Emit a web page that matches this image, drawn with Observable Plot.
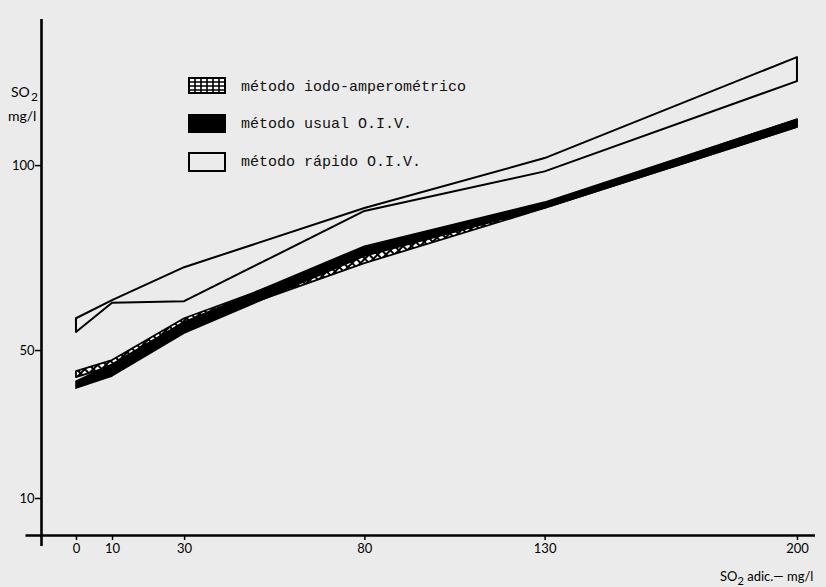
<!DOCTYPE html>
<html><head><meta charset="utf-8">
<script src="https://cdn.jsdelivr.net/npm/d3@7"></script>
<script src="https://cdn.jsdelivr.net/npm/@observablehq/plot@0.6"></script>
<style>
body{margin:0;background:#ebebeb;}
#wrap{position:relative;width:826px;height:587px;background:#ebebeb;overflow:hidden;}
#wrap svg.plot{position:absolute;left:0;top:0;}
.lab{position:absolute;font-family:Lato,"DejaVu Sans",sans-serif;font-size:14px;color:#000;white-space:nowrap;line-height:13px;}
.leg{position:absolute;font-family:"Liberation Mono",monospace;font-size:15px;color:#111;white-space:nowrap;line-height:18px;}
.sw{position:absolute;}
</style></head><body>
<svg width="0" height="0" style="position:absolute">
 <defs>
  <pattern id="xhatch" patternUnits="userSpaceOnUse" width="6" height="6" patternTransform="rotate(45)">
   <rect width="6" height="6" fill="#fff"/>
   <path d="M0 3H6M3 0V6" stroke="#000" stroke-width="2"/>
  </pattern>
 </defs>
</svg>
<div id="wrap"></div>
<script>
// x: SO2 added (mg/l); y: SO2 found (mg/l) — lower and upper edge of each band
const xs = [0, 10, 30, 80, 130, 200];
const iodoLow  = [42.7, 45.7, 56.2, 73.5, 88.4, 110.3];
const iodoHigh = [44.3, 47.3, 58.6, 76.5, 89.6, 112.4];
const usualLow  = [39.7, 43.0, 54.6, 75.4, 88.4, 110.3];
const usualHigh = [41.6, 46.2, 57.6, 78.1, 90.0, 112.4];
const rapidoLow  = [54.9, 62.8, 63.2, 87.6, 98.3, 122.7];
const rapidoHigh = [58.6, 63.5, 72.4, 88.4, 101.9, 129.2];
const xTicks = [0, 10, 30, 80, 130, 200];
const yTicks = [10, 50, 100];
const legendLabels = ["método iodo-amperométrico", "método usual O.I.V.", "método rápido O.I.V."];

const rows = xs.map((x, i) => ({
  x, iL: iodoLow[i], iH: iodoHigh[i], uL: usualLow[i], uH: usualHigh[i], rL: rapidoLow[i], rH: rapidoHigh[i]
}));

const xMin = -9.7, xMax = 205, yMax = 139.5;
const chart = Plot.plot({
  width: 826, height: 587,
  marginLeft: 41, marginRight: 11, marginTop: 19, marginBottom: 52,
  x: {domain: [xMin, xMax]},
  y: {domain: [0, yMax]},
  style: {background: "transparent", fontFamily: "Lato, 'DejaVu Sans', sans-serif", fontSize: "13px", color: "#000"},
  marks: [
    Plot.areaY(rows, {x: "x", y1: "rL", y2: "rH", fill: "none", stroke: "#000", strokeWidth: 2}),
    Plot.areaY(rows, {x: "x", y1: "iL", y2: "iH", fill: "url(#xhatch)", stroke: "#000", strokeWidth: 1.8}),
    Plot.areaY(rows, {x: "x", y1: "uL", y2: "uH", fill: "#000", stroke: "#000", strokeWidth: 1.5}),
    Plot.ruleY([0], {x1: -14, x2: xMax, stroke: "#000", strokeWidth: 2.6}),
    Plot.ruleX([xMin], {y1: -3, y2: yMax, stroke: "#000", strokeWidth: 2.6}),
    Plot.axisX({ticks: xTicks, tickSize: 5, tickPadding: 3, strokeWidth: 1.5, tickFormat: d => String(d), label: null}),
    Plot.axisY({ticks: yTicks, tickSize: 6, tickPadding: 1, strokeWidth: 1.5, tickFormat: d => String(d), label: null})
  ]
});
chart.classList.add("plot");
const wrap = document.getElementById("wrap");
wrap.appendChild(chart);

// axis titles
wrap.insertAdjacentHTML("beforeend",
  `<div class="lab" style="left:11px;top:85px;">SO</div>
   <div class="lab" style="left:31px;top:91px;font-size:12px;line-height:11px;">2</div>
   <div class="lab" style="left:8px;top:109px;">mg/l</div>
   <div class="lab" style="left:720px;top:569px;font-size:13px;line-height:15px;">SO<span style="position:relative;top:4px;font-size:11px">2</span> adic.— mg/l</div>`);

// legend
const swTop = [77, 114, 152];
const txtTop = [79, 116, 154];
const swatches = [
  `<svg width="38" height="17"><rect x="1" y="1" width="36" height="15" fill="#fff" stroke="#000" stroke-width="2"/>
     ${[7,13,19,25,31].map(x=>`<line x1="${x}" y1="1" x2="${x}" y2="16" stroke="#000" stroke-width="1.6"/>`).join("")}
     ${[5,9,13].map(y=>`<line x1="1" y1="${y}" x2="37" y2="${y}" stroke="#000" stroke-width="1.6"/>`).join("")}</svg>`,
  `<svg width="38" height="19"><rect x="0" y="0" width="38" height="19" fill="#000"/></svg>`,
  `<svg width="38" height="20"><rect x="1" y="1" width="36" height="18" fill="none" stroke="#000" stroke-width="2"/></svg>`
];
legendLabels.forEach((t, i) => {
  wrap.insertAdjacentHTML("beforeend",
    `<div class="sw" style="left:188px;top:${swTop[i]}px;">${swatches[i]}</div>
     <div class="leg" style="left:241px;top:${txtTop[i]}px;">${t}</div>`);
});
</script>
</body></html>
